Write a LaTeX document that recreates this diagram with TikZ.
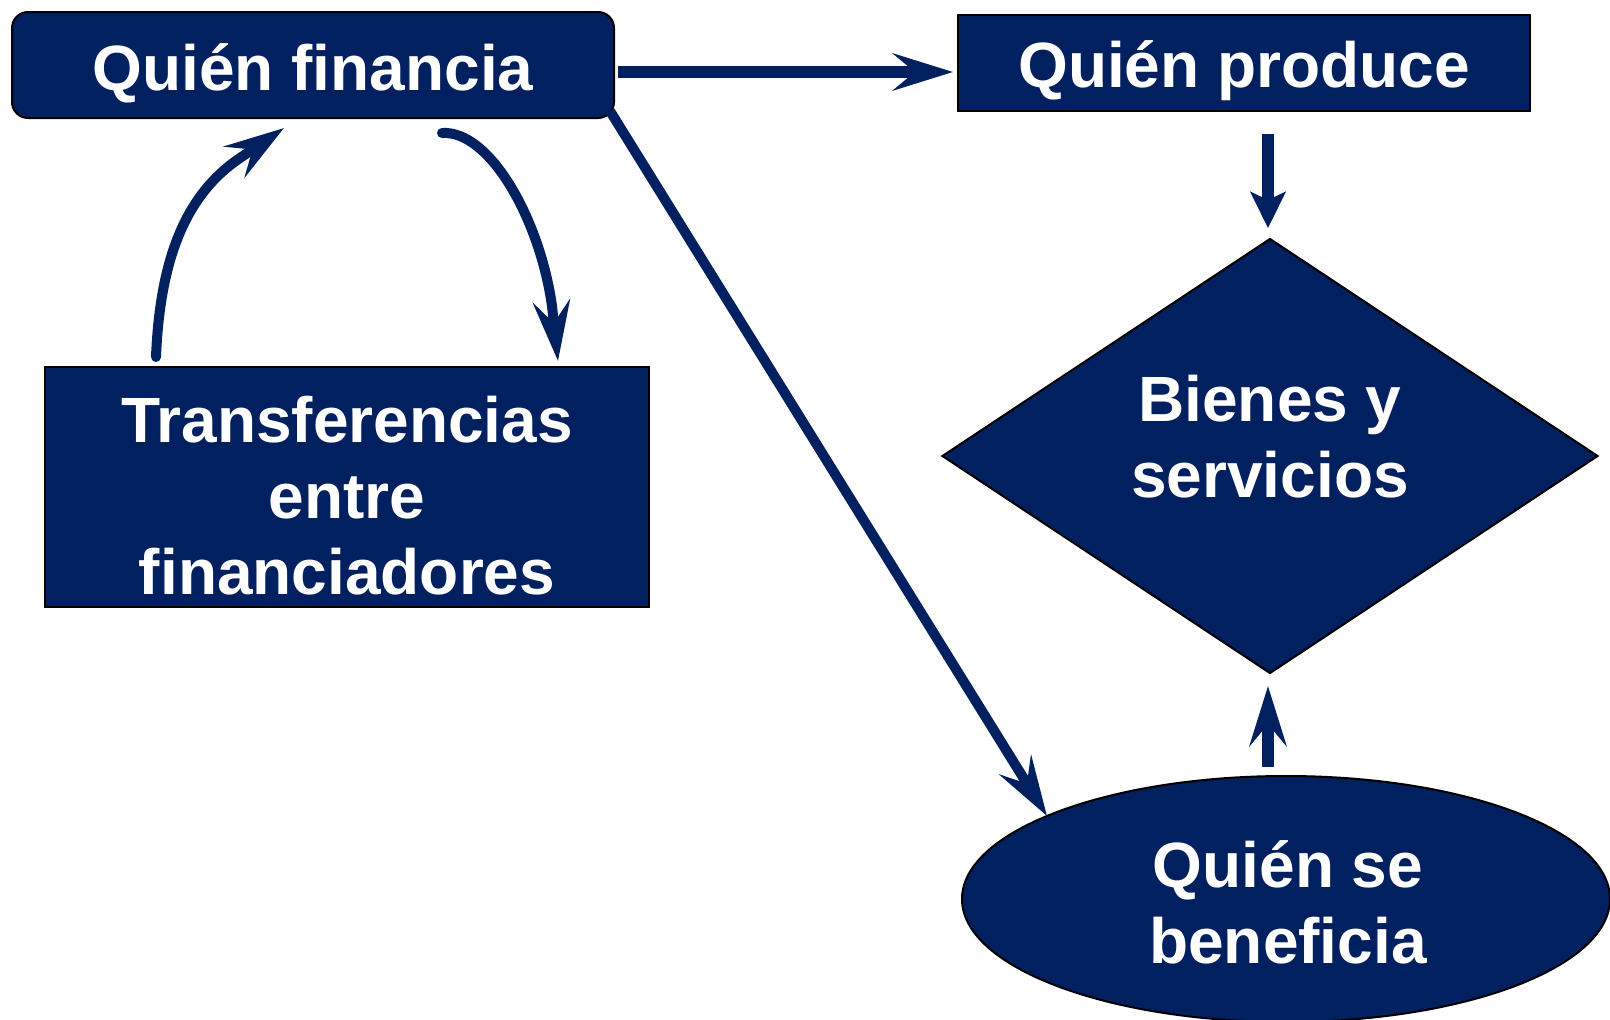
\documentclass[tikz,border=0pt]{standalone}
\usepackage{fontspec}
\setmainfont{Liberation Sans}
\usetikzlibrary{arrows.meta,shapes.geometric}
\definecolor{navy}{RGB}{0,32,96}
\begin{document}
\begin{tikzpicture}[x=1pt,y=-1pt,
  box/.style={draw=black,line width=2pt,fill=navy,text=white,
    font=\fontsize{64}{76}\selectfont\bfseries,align=center,inner sep=0pt},
  txt/.style={text=white,font=\fontsize{64}{76}\selectfont\bfseries,align=center,inner sep=0pt},
  conn/.style={draw=navy,line width=12pt},
  curve/.style={draw=navy,line width=10pt,line cap=round},
  bigtip/.style={-{Stealth[length=60pt,width=37pt,inset=22pt]}},
  smalltip/.style={-{Stealth[length=36pt,width=35pt,inset=8pt]}}
]
\fill[white] (0,0) rectangle (1610,1020);
\useasboundingbox (0,0) rectangle (1610,1020);

% nodes
\node[box,rounded corners=16pt,minimum width=602pt,minimum height=106pt] (qf) at (313,65) {};
\node[txt] (qft) at (313,73) {Quién financia};
\node[box,minimum width=572pt,minimum height=96pt] (qp) at (1244,63) {};
\node[txt] (qpt) at (1244,71) {Quién produce};
\node[box,minimum width=604pt,minimum height=240pt] (tr) at (347,487) {};
\node[txt] (trt) at (347,496) {Transferencias\\entre\\financiadores};
\node[box,diamond,minimum width=656pt,minimum height=435pt] (bs) at (1270,456) {};
\node[txt] (bst) at (1270,437) {Bienes y\\servicios};
\node[box,ellipse,minimum width=648pt,minimum height=246pt] (qb) at (1286,899) {};
\node[txt] (qbt) at (1288,902) {Quién se\\beneficia};

% connector end points
\coordinate (h1) at (618,72);
\coordinate (h2) at (953,72);
\coordinate (v1) at (1268,134);
\coordinate (v2) at (1268,228);
\coordinate (u1) at (1268,767);
\coordinate (u2) at (1268,686);
\coordinate (d1) at (610,111);
\coordinate (d2) at (1047,816);
\coordinate (l1) at (156,357);
\coordinate (l2) at (240,158);
\coordinate (l3) at (284,128);
\coordinate (r1) at (442,133);
\coordinate (r2) at (552,306);
\coordinate (r3) at (558,361);

% connectors
\draw[conn,bigtip] (h1) -- (h2);
\draw[conn,smalltip] (v1) -- (v2);
\draw[conn,bigtip] (u1) -- (u2);
\draw[conn,line width=10pt,bigtip] (d1) -- (d2);
\draw[curve,bigtip] (l1) .. controls (160,260) and (185,195) .. (l2) -- (l3);
\draw[curve,bigtip] (r1) .. controls (490,130) and (540,220) .. (r2) -- (r3);
\end{tikzpicture}
\end{document}
